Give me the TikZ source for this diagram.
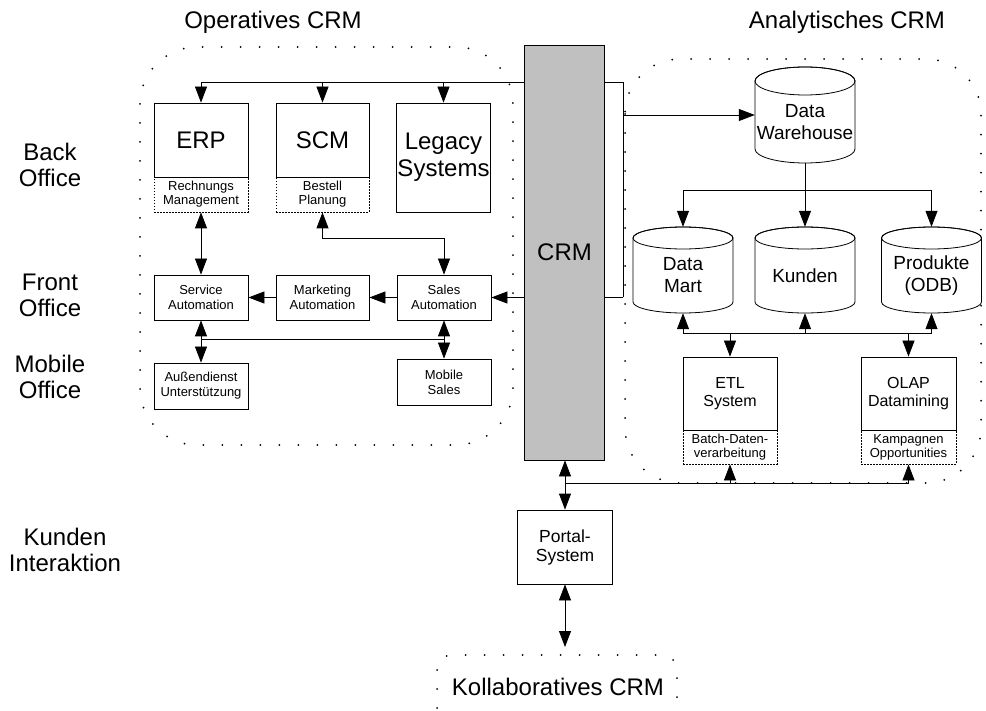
\documentclass[tikz,border=0pt]{standalone}
\usepackage{fontspec}
\setmainfont{Liberation Sans}
\usetikzlibrary{arrows.meta}
\definecolor{crmgray}{RGB}{192,192,192}
\tikzset{
  box/.style={draw, line width=0.8pt, fill=white, inner sep=1pt, align=center},
  subbox/.style={draw, line width=0.8pt, dash pattern=on 1.5pt off 1.5pt, inner sep=0pt, align=center, font=\fontsize{13}{14}\selectfont},
  bigf/.style={font=\fontsize{24}{27}\selectfont},
  midf/.style={font=\fontsize{13}{15}\selectfont},
  lbl/.style={align=center, inner sep=0pt, font=\fontsize{24}{26}\selectfont},
  region/.style={line width=2pt, dash pattern=on 0pt off 19pt, line cap=round},
  conn/.style={line width=0.8pt},
  arr/.style={conn, -{Triangle[length=16pt,width=12pt]}},
  darr/.style={conn, {Triangle[length=16pt,width=12pt]}-{Triangle[length=16pt,width=12pt]}},
  cylline/.style={line width=0.8pt, fill=white}
}
% #1 name, #2 cx, #3 cy, #4 rx, #5 half height, #6 ry, #7 text
\newcommand\mycyl[7]{%
  \node[inner sep=0pt, minimum width=2*#4pt, minimum height=2*#5pt] (#1) at (#2,#3) {};
  \filldraw[cylline] (#2-#4,#3-#5+#6) -- (#2-#4,#3+#5-#6)
     arc[start angle=180, end angle=360, x radius=#4pt, y radius=#6pt]
     -- (#2+#4,#3-#5+#6)
     arc[start angle=0, end angle=180, x radius=#4pt, y radius=#6pt] -- cycle;
  \draw[line width=0.8pt] (#2,#3-#5+#6) ellipse[x radius=#4pt, y radius=#6pt];
  \node[align=center, inner sep=0pt, font=\fontsize{19}{22}\selectfont] (#1-t) at (#2,#3+#6/2) {#7};
}
\begin{document}
\begin{tikzpicture}[x=1pt,y=-1pt]
\useasboundingbox (0,0) rectangle (986,711);

% regions
\draw[region, rounded corners=57pt] (140,47) rectangle (513,445);
\draw[region, rounded corners=55pt] (625,59) rectangle (981,483);
\draw[region, rounded corners=15pt] (437,655) rectangle (677,760);

% labels
\node[lbl] (opLbl) at (273,22) {Operatives CRM};
\node[lbl] (anLbl) at (847,22) {Analytisches CRM};
\node[lbl] (backoff) at (50,165) {Back\\Office};
\node[lbl] (frontoff) at (50,295) {Front\\Office};
\node[lbl] (mobileoff) at (50,377) {Mobile\\Office};
\node[lbl] (kundenia) at (65,550) {Kunden\\Interaktion};
\node[lbl] (kollab) at (558,687) {Kollaboratives CRM};

% operative boxes
\node[subbox, minimum width=94pt, minimum height=35pt] (erpsub) at (201,194.5) {Rechnungs\\Management};
\node[box, bigf, minimum width=94pt, minimum height=74pt] (erp) at (201,140) {ERP};
\node[subbox, minimum width=93pt, minimum height=35pt] (scmsub) at (322.5,194.5) {Bestell\\Planung};
\node[box, bigf, minimum width=93pt, minimum height=74pt] (scm) at (322.5,140) {SCM};
\node[box, bigf, minimum width=93pt, minimum height=109pt] (legacy) at (443.5,157.5) {Legacy\\Systems};

\node[box, midf, minimum width=94pt, minimum height=45pt] (service) at (201,297.5) {Service\\Automation};
\node[box, midf, minimum width=93pt, minimum height=45pt] (marketing) at (322.5,297.5) {Marketing\\Automation};
\node[box, midf, minimum width=94pt, minimum height=45pt] (sales) at (444,297.5) {Sales\\Automation};
\node[box, midf, minimum width=94pt, minimum height=46pt] (aussen) at (201,386) {Außendienst\\Unterstützung};
\node[box, midf, minimum width=94pt, minimum height=46pt] (mobile) at (444,382) {Mobile\\Sales};

% analytic
\mycyl{dw}{805}{115}{50}{48}{14}{Data\\Warehouse}
\mycyl{mart}{683}{270}{50}{43}{11}{Data\\Mart}
\mycyl{kunden}{805}{270}{50}{43}{11}{Kunden}
\mycyl{prod}{931.5}{270}{50}{43}{11}{Produkte\\(ODB)}

\node[subbox, minimum width=94pt, minimum height=34pt] (etlsub) at (730,447) {Batch-Daten-\\verarbeitung};
\node[box, minimum width=94pt, minimum height=73pt, font=\fontsize{16}{18}\selectfont] (etl) at (730,393.5) {ETL\\System};
\node[subbox, minimum width=95pt, minimum height=34pt] (olapsub) at (908.5,447) {Kampagnen\\Opportunities};
\node[box, minimum width=95pt, minimum height=73pt, font=\fontsize{16}{18}\selectfont] (olap) at (908.5,393.5) {OLAP\\Datamining};

\node[box, minimum width=95pt, minimum height=74pt, font=\fontsize{17.5}{19}\selectfont] (portal) at (565,547) {Portal-\\System};

% bus through CRM
\coordinate (busTR) at (623,82);
\coordinate (busBR) at (623,297.5);
\draw[conn] (erp.north |- busTR) -- (busTR) -- (busBR);
\draw[arr] (erp.north |- busTR) -- (erp.north);
\draw[arr] (scm.north |- busTR) -- (scm.north);
\draw[arr] (legacy.north |- busTR) -- (legacy.north);
\draw[arr] (busBR) -- (sales.east);
\draw[arr] (busTR |- dw.west) -- (dw.west);

% CRM box
\node[draw, line width=0.8pt, fill=crmgray, minimum width=80pt, minimum height=415pt, bigf] (crm) at (564.5,252.5) {CRM};

% operative connectors
\draw[darr] (erpsub.south) -- (service.north);
\coordinate (scmbus) at (0,238);
\draw[darr] (scmsub.south) -- (scmsub.south |- scmbus) -| (sales.north);
\draw[arr] (sales.west) -- (marketing.east);
\draw[arr] (marketing.west) -- (service.east);
\draw[darr] (service.south) -- (aussen.north);
\draw[darr] (sales.south) -- (mobile.north);
\coordinate (mobbus) at (0,339);
\draw[conn] (service.south |- mobbus) -- (sales.south |- mobbus);

% analytic connectors
\coordinate (dwbus) at (0,190);
\draw[conn] (dw.south) -- (dw.south |- dwbus);
\draw[conn] (mart.north |- dwbus) -- (prod.north |- dwbus);
\draw[arr] (mart.north |- dwbus) -- (mart.north);
\draw[arr] (kunden.north |- dwbus) -- (kunden.north);
\draw[arr] (prod.north |- dwbus) -- (prod.north);

\coordinate (anbus) at (0,333);
\draw[conn] (mart.south |- anbus) -- (prod.south |- anbus);
\draw[arr] (mart.south |- anbus) -- (mart.south);
\draw[arr] (kunden.south |- anbus) -- (kunden.south);
\draw[arr] (prod.south |- anbus) -- (prod.south);
\draw[arr] (etl.north |- anbus) -- (etl.north);
\draw[arr] (olap.north |- anbus) -- (olap.north);

% lower bus
\coordinate (lowbus) at (0,483);
\draw[conn] (portal.north |- lowbus) -- (olapsub.south |- lowbus);
\draw[arr] (portal.north |- lowbus) -- (crm.south -| portal.north);
\draw[arr] (portal.north |- lowbus) -- (portal.north);
\draw[arr] (etlsub.south |- lowbus) -- (etlsub.south);
\draw[arr] (olapsub.south |- lowbus) -- (olapsub.south);

% portal to collaborative
\coordinate (koltop) at (0,647);
\draw[darr] (portal.south) -- (portal.south |- koltop);
\end{tikzpicture}
\end{document}
